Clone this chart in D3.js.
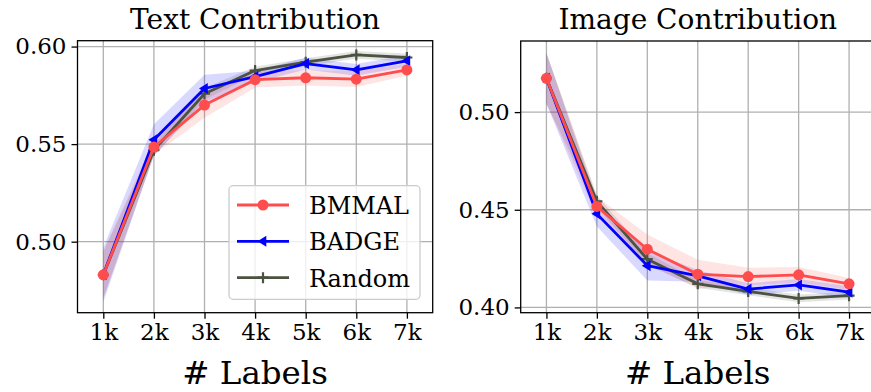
<!DOCTYPE html>
<html><head><meta charset="utf-8">
<script src="https://cdn.jsdelivr.net/npm/d3@7"></script>
<style>body{margin:0;background:#fff}svg{display:block}text{font-family:"DejaVu Serif",serif;fill:#000}</style>
</head><body><svg id="c" width="871" height="392"></svg>
<script>
const labels = [1,2,3,4,5,6,7];
const tickLabels = ["1k","2k","3k","4k","5k","6k","7k"];
const seriesNames = ["BMMAL","BADGE","Random"];
const textBMMAL = [0.483,0.5485,0.570,0.583,0.584,0.5833,0.588];
const textBADGE = [0.483,0.5522,0.5785,0.5846,0.5913,0.5881,0.5927];
const textRandom = [0.483,0.5469,0.5758,0.5877,0.5920,0.5957,0.5944];
const textBMMALstd = [0.012,0.004,0.0065,0.004,0.004,0.004,0.003];
const textBADGEstd = [0.014,0.008,0.007,0.003,0.003,0.003,0.003];
const textRandomstd = [0.012,0.003,0.003,0.002,0.002,0.002,0.002];
const imgBMMAL = [0.5173,0.4517,0.4298,0.417,0.4158,0.4167,0.4121];
const imgBADGE = [0.5173,0.4479,0.4214,0.4162,0.4094,0.4115,0.4078];
const imgRandom = [0.5173,0.4543,0.4247,0.4121,0.4082,0.4046,0.406];
const imgBMMALstd = [0.013,0.005,0.0075,0.0074,0.0045,0.004,0.003];
const imgBADGEstd = [0.013,0.0065,0.0076,0.003,0.003,0.003,0.003];
const imgRandomstd = [0.013,0.003,0.003,0.002,0.002,0.002,0.002];
const textYTicks = [0.50,0.55,0.60];
const imgYTicks = [0.40,0.45,0.50];
const colors = {BMMAL:"#ff4d4d",BADGE:"#0000ff",Random:"#4b5241"};

const svg = d3.select("#c");

function panel(opt){
  const {x0,x1,y0,y1,ydom,yticks,title,data} = opt;
  const g = svg.append("g");
  const x = d3.scaleLinear().domain([0.49,7.51]).range([x0,x1]);
  const y = d3.scaleLinear().domain(ydom).range([y1,y0]);
  g.selectAll(".gx").data(labels).join("line").attr("x1",d=>x(d)).attr("x2",d=>x(d))
    .attr("y1",y0).attr("y2",y1).attr("stroke","#b0b0b0").attr("stroke-width",1.3);
  g.selectAll(".gy").data(yticks).join("line").attr("y1",d=>y(d)).attr("y2",d=>y(d))
    .attr("x1",x0).attr("x2",x1).attr("stroke","#b0b0b0").attr("stroke-width",1.3);
  const order = ["Random","BADGE","BMMAL"];
  order.forEach(n=>{
    const m=data[n].m, s=data[n].s;
    const area = d3.area().x((d,i)=>x(labels[i])).y0((d,i)=>y(m[i]-s[i])).y1((d,i)=>y(m[i]+s[i]));
    g.append("path").attr("d",area(m)).attr("fill",colors[n]).attr("fill-opacity",0.15);
  });
  order.forEach(n=>{
    const m=data[n].m;
    const line = d3.line().x((d,i)=>x(labels[i])).y(d=>y(d));
    g.append("path").attr("d",line(m)).attr("fill","none").attr("stroke",colors[n]).attr("stroke-width",2.8).attr("stroke-linejoin","round");
    m.forEach((v,i)=>marker(g,n,x(labels[i]),y(v)));
  });
  g.append("rect").attr("x",x0).attr("y",y0).attr("width",x1-x0).attr("height",y1-y0)
    .attr("fill","none").attr("stroke","#000").attr("stroke-width",1.3);
  const xa = g.append("g").attr("transform",`translate(0,${y1})`)
    .call(d3.axisBottom(x).tickValues(labels).tickFormat((d,i)=>tickLabels[i]).tickSize(6).tickPadding(5));
  xa.select(".domain").remove();
  xa.selectAll("text").attr("font-size",23).attr("font-family","DejaVu Serif");
  xa.selectAll("line").attr("stroke-width",1.3);
  const ya = g.append("g").attr("transform",`translate(${x0},0)`)
    .call(d3.axisLeft(y).tickValues(yticks).tickFormat(d3.format(".2f")).tickSize(6).tickPadding(5));
  ya.select(".domain").remove();
  ya.selectAll("text").attr("font-size",23).attr("font-family","DejaVu Serif");
  ya.selectAll("line").attr("stroke-width",1.3);
  g.append("text").attr("x",(x0+x1)/2).attr("y",29).attr("text-anchor","middle").attr("font-size",28).text(title);
  g.append("text").attr("x",(x0+x1)/2).attr("y",384).attr("text-anchor","middle").attr("font-size",32.5).text("# Labels");
}

function marker(g,n,cx,cy){
  const c=colors[n];
  if(n==="BMMAL"){
    g.append("circle").attr("cx",cx).attr("cy",cy).attr("r",5.5).attr("fill",c);
  } else if(n==="BADGE"){
    const r=5.5;
    g.append("path").attr("d",`M${cx-r},${cy}L${cx+r*0.6},${cy-r}L${cx+r*0.6},${cy+r}Z`).attr("fill",c);
  } else {
    const r=5.5;
    g.append("path").attr("d",`M${cx-r},${cy}H${cx+r}M${cx},${cy-r}V${cy+r}`).attr("stroke",c).attr("stroke-width",2.2);
  }
}

panel({x0:77.5,x1:432.7,y0:40.7,y1:312.7,ydom:[0.4636,0.603],yticks:textYTicks,title:"Text Contribution",
  data:{BMMAL:{m:textBMMAL,s:textBMMALstd},BADGE:{m:textBADGE,s:textBADGEstd},Random:{m:textRandom,s:textRandomstd}}});
panel({x0:520.7,x1:874.8,y0:41,y1:312.7,ydom:[0.3973,0.5364],yticks:imgYTicks,title:"Image Contribution",
  data:{BMMAL:{m:imgBMMAL,s:imgBMMALstd},BADGE:{m:imgBADGE,s:imgBADGEstd},Random:{m:imgRandom,s:imgRandomstd}}});

const lg = svg.append("g");
lg.append("rect").attr("x",229).attr("y",185.7).attr("width",191).attr("height",113.6).attr("rx",4)
  .attr("fill","#fff").attr("fill-opacity",0.8).attr("stroke","#cccccc").attr("stroke-width",1.3);
const ly = d3.scalePoint().domain(seriesNames).range([205,277.7]);
seriesNames.forEach(n=>{
  const yy=ly(n);
  lg.append("line").attr("x1",237).attr("x2",289).attr("y1",yy).attr("y2",yy).attr("stroke",colors[n]).attr("stroke-width",2.8);
  marker(lg,n,263,yy);
  lg.append("text").attr("x",309).attr("y",yy+9).attr("font-size",24).text(n);
});
</script></body></html>
